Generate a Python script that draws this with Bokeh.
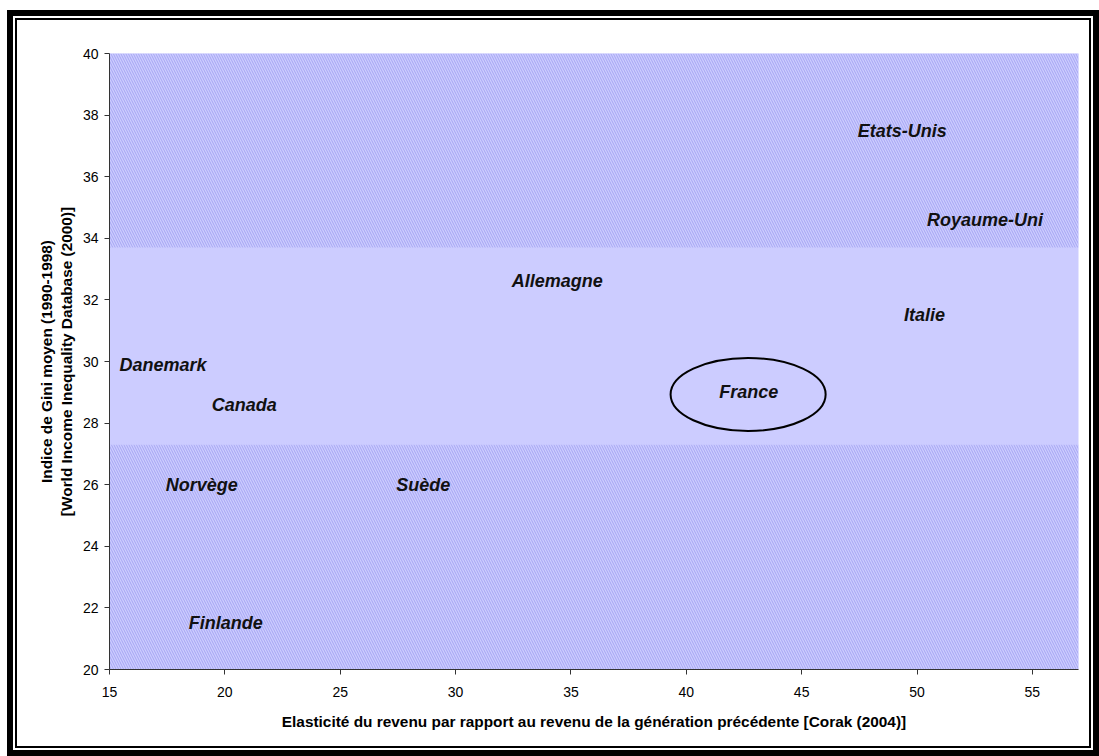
from bokeh.plotting import figure
from bokeh.layouts import column
from bokeh.models import Range1d, FixedTicker, ColumnDataSource
from bokeh.core.properties import value
from bokeh.embed import file_html
from bokeh.resources import INLINE

# Data
countries = ["Etats-Unis", "Royaume-Uni", "Allemagne", "Italie", "Danemark",
             "France", "Canada", "Norvège", "Suède", "Finlande"]
elasticity = [47, 50, 32, 49, 15, 41, 19, 17, 27, 18]
gini = [37.5, 34.6, 32.6, 31.5, 29.9, 29.0, 28.6, 26.0, 26.0, 21.5]

band_low = 27.3
band_high = 33.7

x_ticks = [15, 20, 25, 30, 35, 40, 45, 50, 55]
y_ticks = [20, 22, 24, 26, 28, 30, 32, 34, 36, 38, 40]

x_label = "Elasticité du revenu par rapport au revenu de la génération précédente [Corak (2004)]"
y_label = "Indice de Gini moyen (1990-1998)\n[World Income Inequality Database (2000)]"

FONT = "Liberation Sans"

p = figure(width=1072, height=726, output_backend="svg", toolbar_location=None,
           x_range=Range1d(15, 57), y_range=Range1d(20, 40),
           min_border_left=92, min_border_top=33, min_border_right=11,
           min_border_bottom=77)

p.background_fill_color = "#CCCCFF"
p.border_fill_color = "white"
p.outline_line_color = None
p.grid.visible = False

# hatched zones (outside the band)
for (b, t) in [(20, band_low), (band_high, 40)]:
    p.quad(left=15, right=57, bottom=b, top=t, fill_color="#CCCCFF",
           line_color=None, hatch_pattern="\\", hatch_color="#9090EA",
           hatch_weight=0.8, hatch_scale=5, hatch_alpha=0.8)

src = ColumnDataSource(dict(x=elasticity, y=gini, name=countries))
p.text(x="x", y="y", text="name", source=src, x_offset=10,
       text_align="left", text_baseline="middle",
       text_font=value(FONT), text_font_style="bold italic",
       text_font_size="18px", text_color="#111111")

# ellipse around France
fr = countries.index("France")
p.ellipse(x=elasticity[fr] + 1.68, y=gini[fr] - 0.07, width=6.72, height=2.37,
          fill_color=None, line_color="black", line_width=2)

for ax in (p.xaxis[0], p.yaxis[0]):
    ax.axis_line_color = "#333333"
    ax.major_tick_line_color = "#333333"
    ax.major_tick_out = 5
    ax.major_tick_in = 0
    ax.minor_tick_line_color = None
    ax.major_label_text_font = FONT
    ax.major_label_text_font_size = "14px"
    ax.major_label_text_color = "black"
    ax.axis_label_text_font = FONT
    ax.axis_label_text_font_size = "15.4px"
    ax.axis_label_text_font_style = "bold"
    ax.axis_label_text_color = "black"

p.xaxis.ticker = FixedTicker(ticks=x_ticks)
p.yaxis.ticker = FixedTicker(ticks=y_ticks)
p.xaxis.axis_label = x_label
p.yaxis.axis_label = y_label
p.xaxis.major_label_standoff = 12
p.yaxis.major_label_standoff = 6
p.xaxis.axis_label_standoff = 13
p.yaxis.axis_label_standoff = 5

inner = column(p, styles={"border": "2px solid black", "background": "white"})
outer = column(inner, styles={"border": "6px solid black", "padding": "2px",
                              "background": "white",
                              "margin-left": "7px", "margin-top": "10px"})

open("out.html", "w").write(file_html(outer, INLINE))
